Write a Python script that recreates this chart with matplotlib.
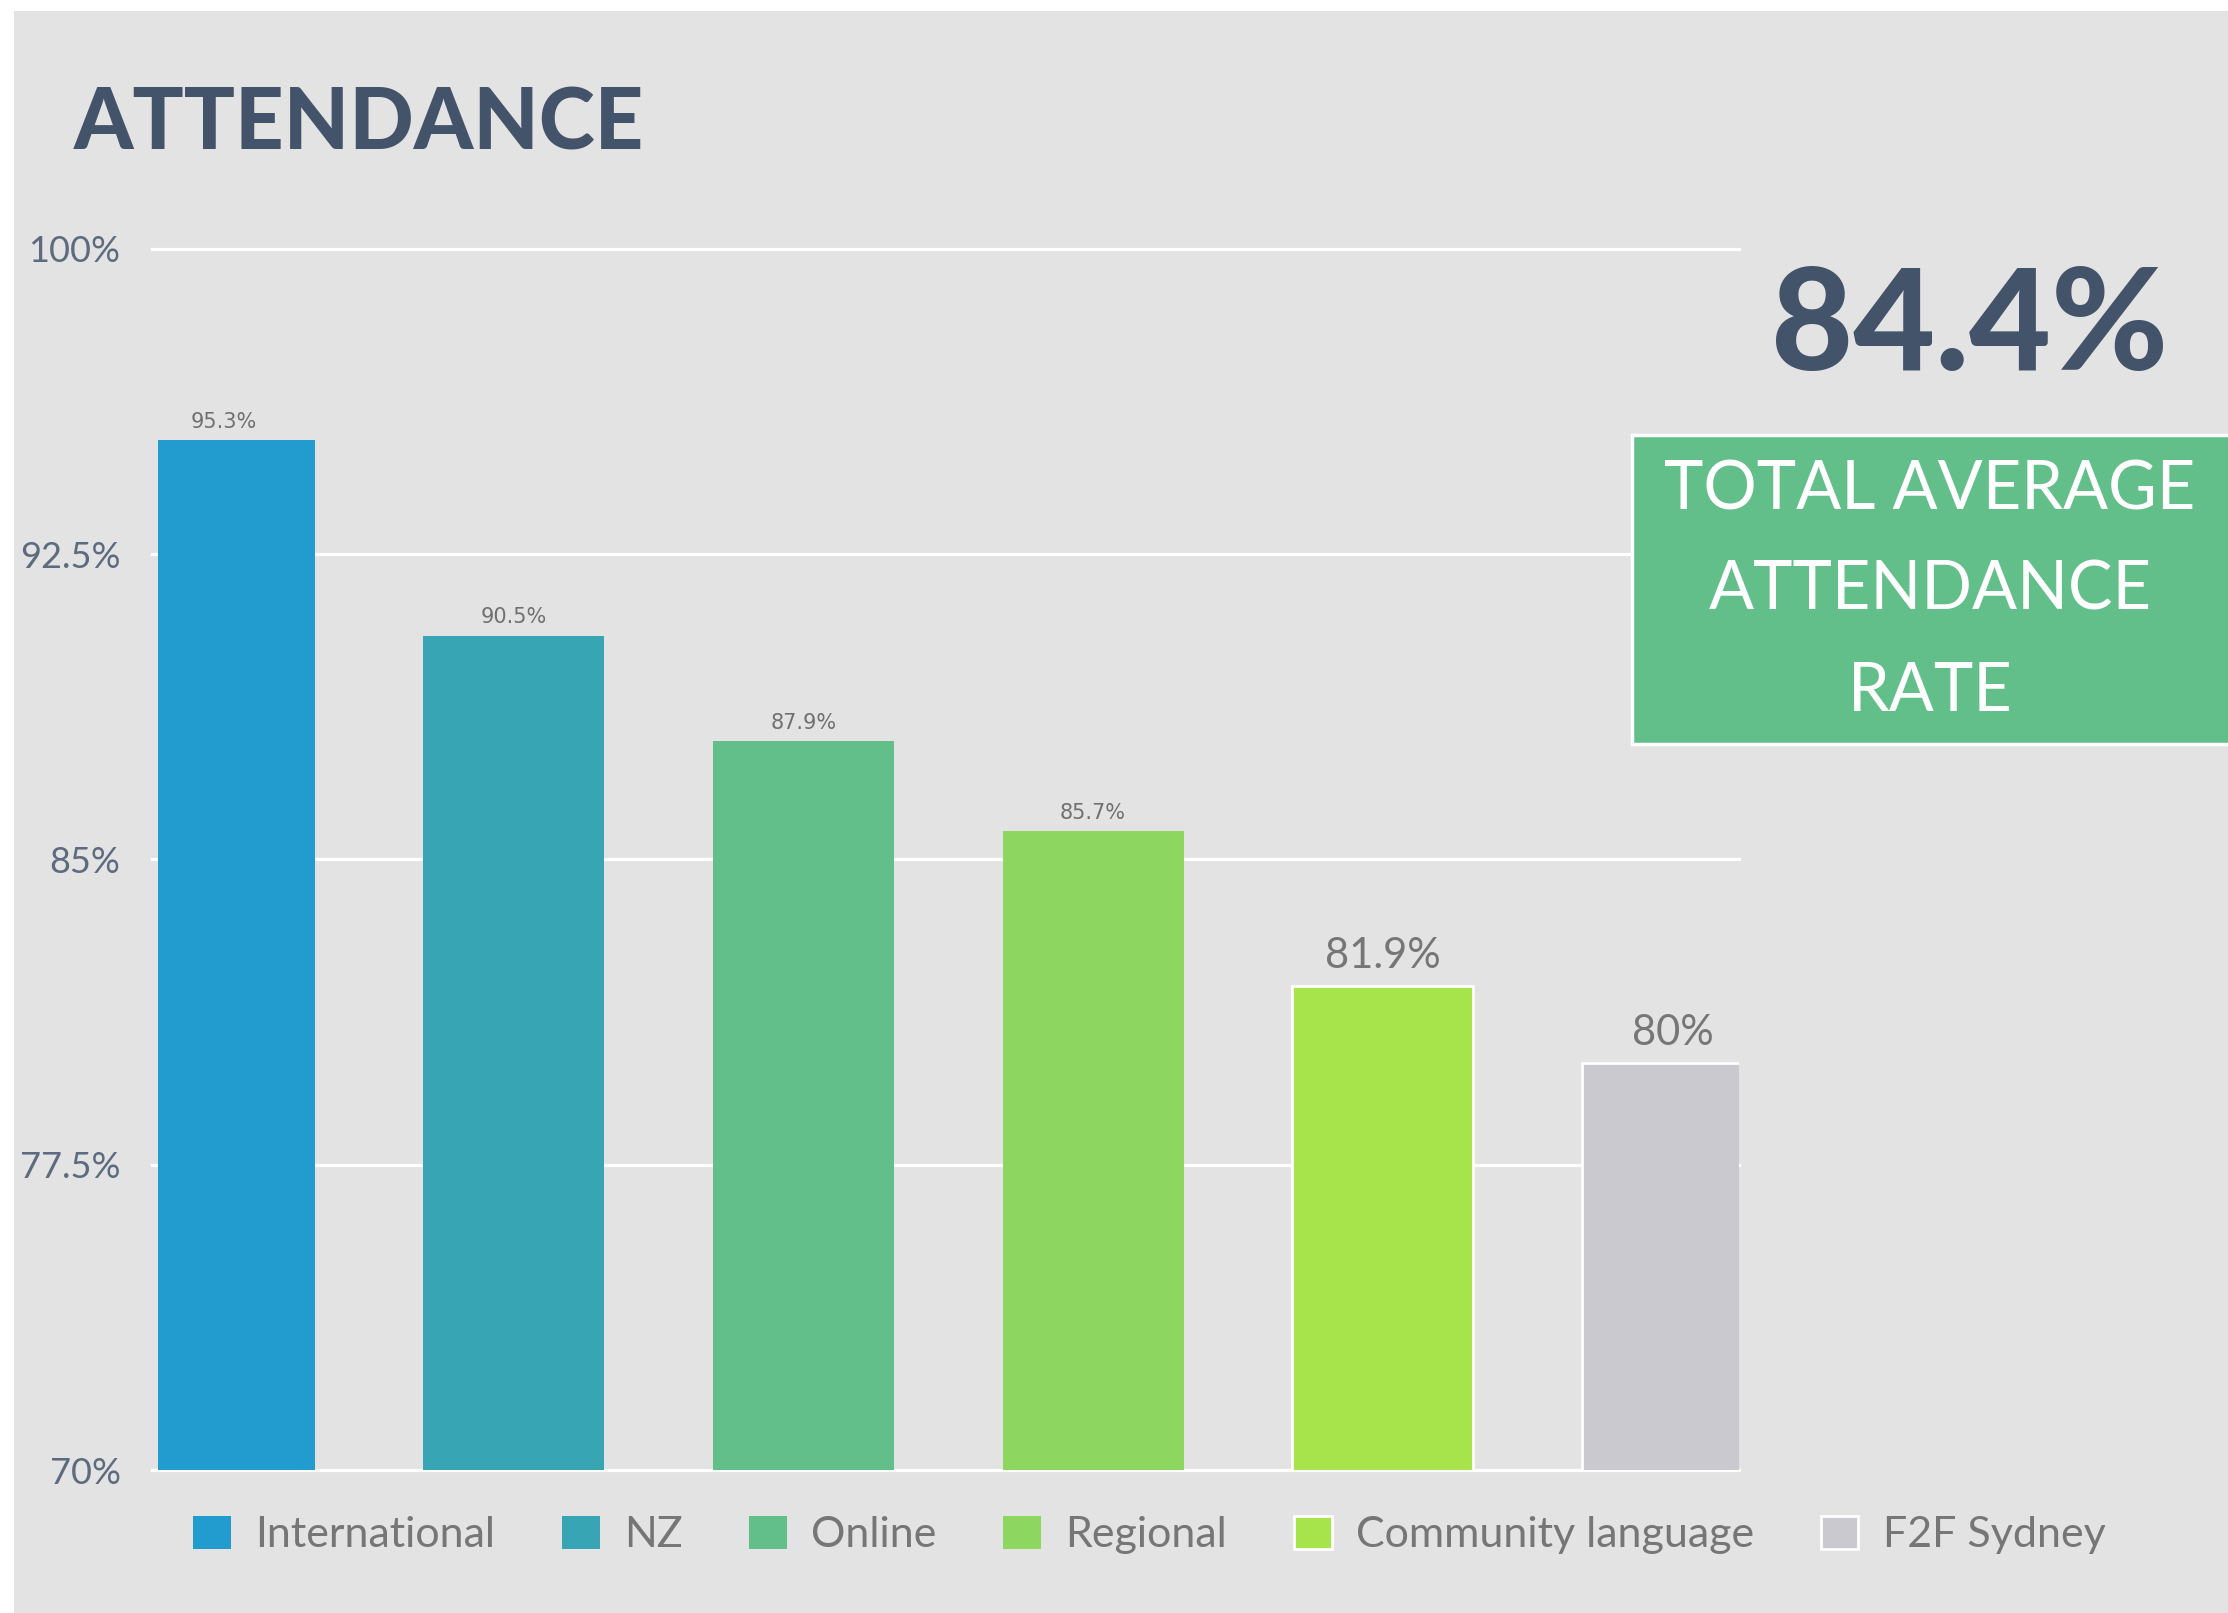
import numpy as np
import matplotlib
matplotlib.use("Agg")
import matplotlib.pyplot as plt
from matplotlib.patches import Rectangle

categories = ["International", "NZ", "Online", "Regional", "Community language", "F2F Sydney"]
values = [95.3, 90.5, 87.9, 85.7, 81.9, 80.0]
value_labels = ["95.3%", "90.5%", "87.9%", "85.7%", "81.9%", "80%"]
colors = ["#229cce", "#37a5b4", "#63bf8a", "#8dd660", "#a7e44b", "#c9c9cf"]
yticks = [70, 77.5, 85, 92.5, 100]
ytick_labels = ["70%", "77.5%", "85%", "92.5%", "100%"]
total_avg = "84.4%"
box_lines = ["TOTAL AVERAGE", "ATTENDANCE", "RATE"]

W, H = 2228, 1613
fig = plt.figure(figsize=(W / 100, H / 100), dpi=100)
fig.patch.set_facecolor("white")

# gray panel
fig.patches.append(Rectangle((14 / W, 0), 1, 1 - 11 / H, transform=fig.transFigure,
                             facecolor="#e3e3e3", edgecolor="none", zorder=-5))

ax = fig.add_axes([158 / W, (H - 1470) / H, (1739 - 158) / W, (1470 - 249) / H])
ax.set_facecolor("none")
ax.set_zorder(1)

x = np.arange(len(categories))
edges = ["none", "none", "none", "none", "white", "white"]
bars = ax.bar(x, values, width=0.625, bottom=0, color=colors, edgecolor=edges,
              linewidth=2, zorder=3)
ax.set_ylim(70, 100)
ax.set_xlim(-0.228, 5.23)

for y in yticks:
    ax.axhline(y, color="white", lw=2.3, zorder=1, xmin=-0.004, clip_on=False)

ax.set_yticks(yticks)
ax.set_yticklabels(ytick_labels, family="Lato", fontweight="normal", fontsize=26, color="#5d6b7f")
ax.tick_params(axis="y", length=0, pad=27)
ax.set_xticks([])
for s in ax.spines.values():
    s.set_visible(False)

for i, (v, lab) in enumerate(zip(values, value_labels)):
    if i < 4:
        ax.annotate(lab, (i, v), xytext=(0, 9), textcoords="offset points", ha="center",
                    va="baseline", fontsize=15, color="#707070", family="DejaVu Sans")
    else:
        ax.annotate(lab, (i, v), xytext=(0, 13), textcoords="offset points", ha="center",
                    va="baseline", fontsize=30, color="#767676", family="Lato")

fig.text(74 / W, (H - 149) / H, "ATTENDANCE", family="Lato", fontweight="black",
         fontsize=61, color="#435369", va="baseline", ha="left")

fig.text(1970 / W, (H - 370) / H, total_avg, family="Lato", fontweight="black",
         fontsize=102, color="#435369", va="baseline", ha="center")

fig.patches.append(Rectangle((1632 / W, (H - 744) / H), (W - 1632 + 20) / W, 309 / H,
                             transform=fig.transFigure, facecolor="#63bf8a",
                             edgecolor="white", lw=2.5, zorder=2))
for k, line in enumerate(box_lines):
    fig.text(1930 / W, (H - 509 - 101 * k) / H, line, family="Lato", fontsize=48,
             color="white", va="baseline", ha="center", zorder=3)

leg = fig.legend(bars.patches, categories, loc="center left",
                 bbox_to_anchor=(193 / W, (H - 1535) / H), ncol=6, frameon=False,
                 prop={"family": "Lato", "size": 31}, handlelength=0.88, handleheight=0.82,
                 handletextpad=0.56, columnspacing=1.55, borderpad=0, borderaxespad=0)
for t in leg.get_texts():
    t.set_color("#767676")

fig.savefig("out.png", dpi=100)
